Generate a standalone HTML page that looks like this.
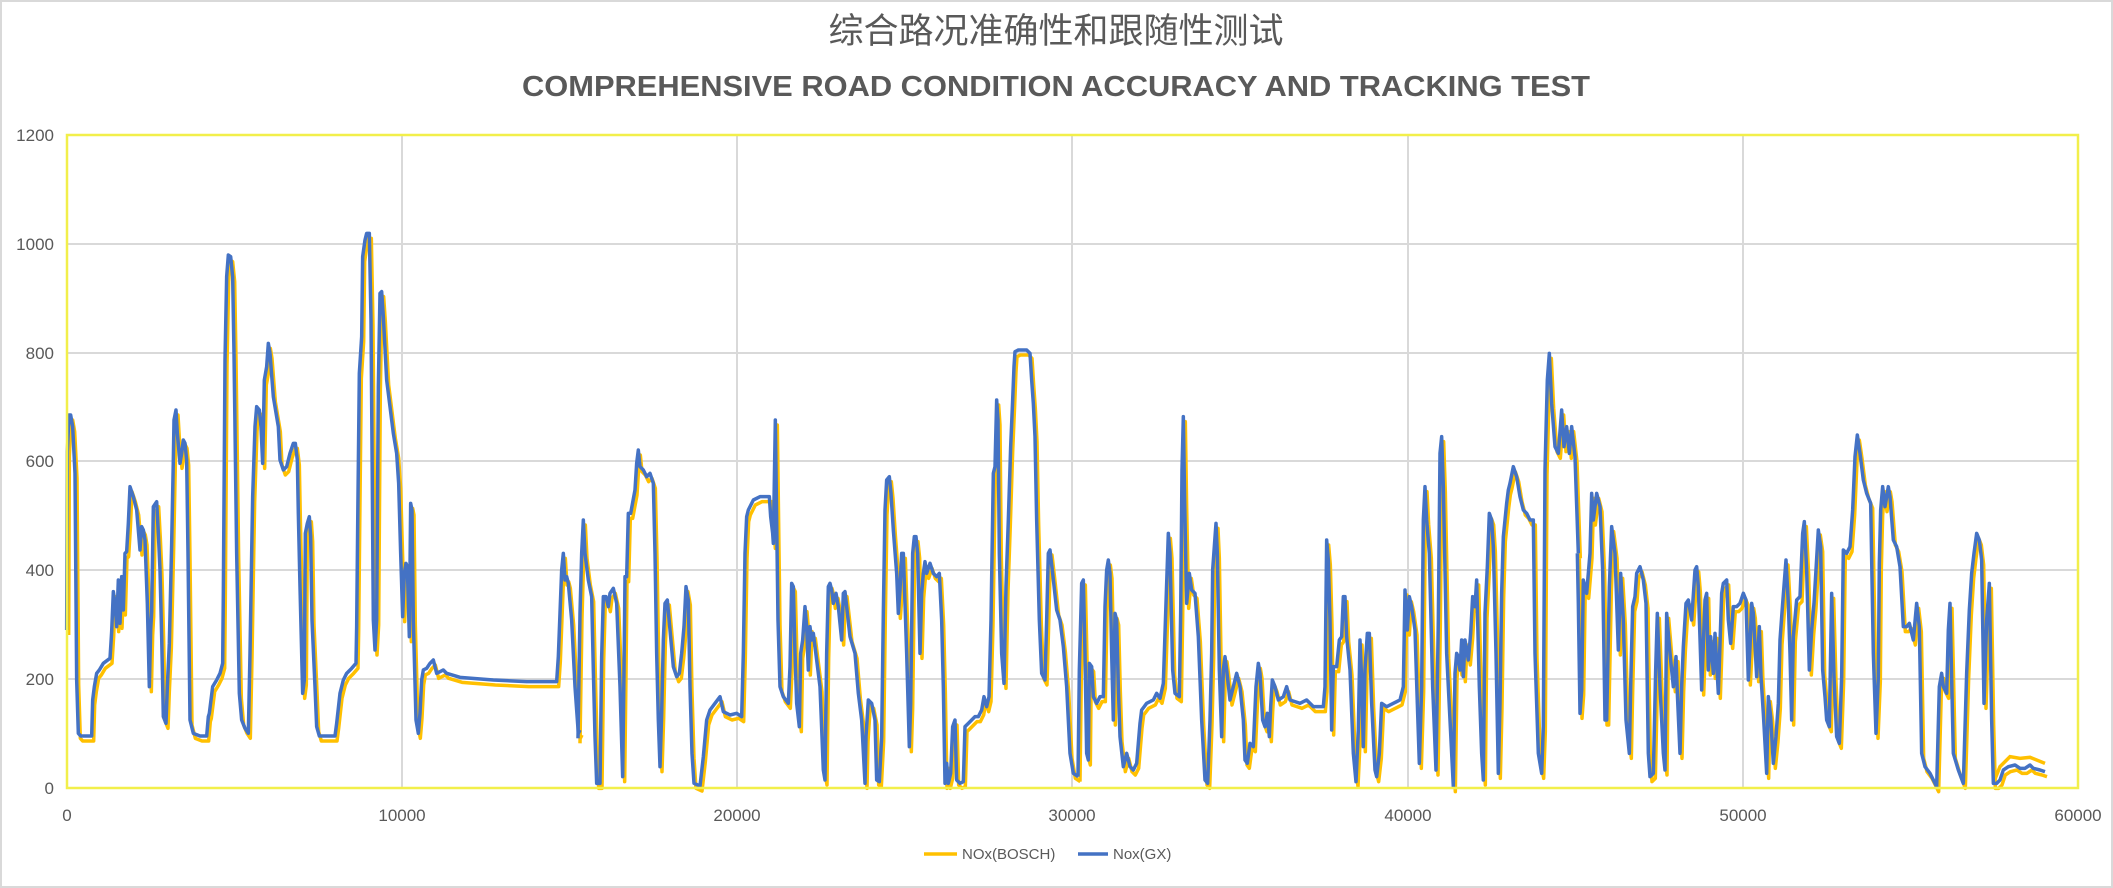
<!DOCTYPE html>
<html><head><meta charset="utf-8"><style>
html,body{margin:0;padding:0;background:#fff;}
svg{display:block;}
text{font-family:"Liberation Sans","Noto Sans CJK SC",sans-serif;fill:#595959;}
</style></head><body>
<svg width="2113" height="888" viewBox="0 0 2113 888" xmlns="http://www.w3.org/2000/svg">
<rect x="1" y="1" width="2111" height="886" fill="#fff" stroke="#d9d9d9" stroke-width="2"/>
<text x="1056" y="43" font-size="35" text-anchor="middle" style="font-family:'Noto Sans CJK SC',sans-serif;fill:#595959">综合路况准确性和跟随性测试</text>
<text x="1056" y="96" font-size="29" font-weight="bold" text-anchor="middle" textLength="1068" lengthAdjust="spacingAndGlyphs">COMPREHENSIVE ROAD CONDITION ACCURACY AND TRACKING TEST</text>
<g stroke="#d9d9d9" stroke-width="2">
<line x1="67" y1="244" x2="2078" y2="244"/><line x1="67" y1="353" x2="2078" y2="353"/><line x1="67" y1="461" x2="2078" y2="461"/><line x1="67" y1="570" x2="2078" y2="570"/><line x1="67" y1="679" x2="2078" y2="679"/>
<line x1="402" y1="135" x2="402" y2="788"/><line x1="737" y1="135" x2="737" y2="788"/><line x1="1072" y1="135" x2="1072" y2="788"/><line x1="1408" y1="135" x2="1408" y2="788"/><line x1="1743" y1="135" x2="1743" y2="788"/>
</g>
<g font-size="17" text-anchor="end">
<text x="54" y="141">1200</text><text x="54" y="250">1000</text><text x="54" y="359">800</text><text x="54" y="467">600</text><text x="54" y="576">400</text><text x="54" y="685">200</text><text x="54" y="794">0</text>
</g>
<g font-size="17" text-anchor="middle">
<text x="67" y="821">0</text><text x="402" y="821">10000</text><text x="737" y="821">20000</text><text x="1072" y="821">30000</text><text x="1408" y="821">40000</text><text x="1743" y="821">50000</text><text x="2078" y="821">60000</text>
</g>
<defs>
<g id="s" fill="none" stroke-linejoin="round">
<polyline vector-effect="non-scaling-stroke" transform="translate(60,220) scale(0.33333)" points="20,1230 22,695 27,585 32,585 38,620 45,760 50,1380 55,1540 62,1548 95,1548 98,1440 103,1400 110,1360 118,1350 130,1330 150,1315 155,1235 160,1115 165,1150 170,1220 175,1080 180,1210 185,1070 190,1170 195,1000 200,995 205,910 210,800 220,830 230,870 240,990 245,920 250,930 255,960 262,1150 268,1400 272,1230 275,1175 280,860 290,845 295,940 300,1050 305,1250 310,1490 318,1510 322,1400 328,1270 335,970 340,720 342,600 348,570 352,640 360,730 365,700 370,660 375,670 380,720 384,1000 390,1500 400,1540 420,1548 440,1548 445,1490 448,1480 458,1400 470,1380 480,1360 488,1330 490,1120 495,420 500,170 505,105 512,110 518,170 522,400 530,1000 538,1420 545,1500 555,1525 565,1540 570,1300 575,1000 578,830 585,620 590,560 598,570 603,620 608,730 613,480 620,440 625,370 630,400 640,530 655,620 660,720 670,750 680,740 690,700 700,670 706,670 712,720 715,880 720,1100 728,1420 733,1380 736,940 742,910 748,890 752,950 756,1200 765,1400 770,1520 778,1548 825,1548 830,1510 840,1420 850,1380 860,1360 875,1345 888,1330 890,1220 893,920 898,460 905,350 908,110 915,60 920,40 928,40 933,300 937,800 940,1200 945,1290 950,1200 955,500 960,220 965,215 970,290 980,480 990,560 1000,640 1010,700 1016,790 1022,1000 1028,1190 1033,1060 1038,1030 1042,1040 1048,1250 1052,850 1056,870 1060,1200 1068,1500 1075,1540 1080,1480 1085,1380 1090,1350 1100,1345 1110,1330 1120,1320 1125,1340 1130,1360 1140,1355 1150,1350 1160,1360 1200,1372 1300,1380 1400,1385 1490,1385 1495,1310 1500,1180 1505,1050 1510,1000 1515,1080 1520,1070 1525,1090 1535,1200 1545,1400 1555,1540 1560,1530"/>
<polyline vector-effect="non-scaling-stroke" transform="translate(560,320) scale(0.33333)" points="54,1255 55,1190 60,880 65,700 70,600 75,700 85,780 95,830 100,1050 105,1250 110,1390 120,1390 125,1010 130,830 138,830 145,860 150,820 160,805 170,850 180,1100 188,1370 192,1050 195,770 200,770 205,580 212,580 225,510 230,430 235,390 240,440 250,450 260,470 270,460 280,490 285,700 290,1000 295,1200 300,1340 305,1180 310,960 315,850 322,840 330,930 340,1040 350,1070 358,1060 365,1000 372,920 378,800 385,840 390,1100 396,1300 402,1390 420,1398 430,1310 440,1200 450,1170 465,1150 480,1130 490,1175 510,1185 530,1180 545,1190 550,1000 555,700 560,590 565,570 580,540 600,530 628,530 632,590 638,640 640,670 646,300 650,600 654,900 660,1100 670,1130 685,1150 690,1040 695,790 700,800 705,1000 710,1150 718,1220 722,1000 728,960 735,860 740,920 745,1050 750,920 755,960 760,940 770,1020 780,1100 790,1350 795,1380 800,1000 805,800 810,790 815,810 820,850 828,820 835,860 845,960 850,820 855,815 860,860 870,950 885,1000 895,1120 905,1200 915,1390 918,1250 925,1140 935,1150 945,1200 950,1380 958,1385 965,1250 970,880 975,570 980,480 988,470 993,520 1000,630 1010,760 1015,880 1020,810 1025,700 1030,700 1040,1000 1048,1280 1052,1150 1058,700 1063,650 1068,650 1073,700 1080,1000 1085,820 1090,760 1095,725 1100,760 1110,730 1120,760 1130,770 1138,760 1145,900 1150,1100 1155,1390 1160,1330 1165,1390 1172,1360 1178,1220 1185,1200 1190,1380 1200,1390 1210,1385 1215,1220 1225,1210 1235,1200 1245,1190 1255,1190 1265,1170 1272,1130 1280,1160 1287,1130 1293,900 1300,460 1305,440 1310,240 1314,300 1318,700 1325,1000 1332,1090 1338,800 1345,600 1352,380 1358,240 1362,140 1365,95 1375,90 1400,90 1410,100 1415,180 1420,250 1425,350 1430,600 1438,900 1445,1060 1455,1080 1460,900 1465,700 1470,690 1478,760 1490,870 1500,900 1510,980 1520,1100 1530,1300 1540,1360 1555,1370"/>
<polyline vector-effect="non-scaling-stroke" transform="translate(1060,320) scale(0.33333)" points="54,1370 58,1050 65,790 70,780 75,1000 80,1300 85,1320 88,1030 95,1040 100,1130 110,1150 120,1130 130,1130 135,860 140,750 145,720 150,760 155,1000 160,1200 165,880 170,900 175,1100 180,1250 190,1340 200,1300 210,1340 220,1350 230,1330 235,1270 240,1210 245,1170 260,1150 280,1140 290,1120 300,1135 310,1090 318,850 325,640 330,700 338,1050 345,1120 358,1130 362,880 366,450 370,290 374,550 380,850 388,760 395,810 405,820 415,950 425,1200 435,1380 443,1390 450,1200 455,1000 458,750 463,680 468,610 472,700 478,1050 485,1250 490,1050 495,1010 500,1050 510,1140 520,1100 530,1060 540,1100 550,1200 555,1320 562,1330 570,1270 580,1280 588,1100 595,1030 600,1060 608,1200 615,1220 622,1180 628,1250 632,1160 637,1080 645,1100 655,1140 670,1130 680,1100 690,1140 720,1150 740,1140 760,1160 790,1160 795,1100 800,660 805,720 810,900 815,1230 820,1040 830,1040 838,960 845,950 850,830 855,830 860,950 870,1050 880,1300 888,1385 895,1230 900,960 905,1080 910,1280 915,1050 922,940 928,940 935,1150 945,1350 950,1370 958,1300 965,1150 980,1160 1000,1150 1020,1140 1030,1100 1035,810 1042,930 1048,830 1055,860 1065,930 1072,1150 1078,1330 1085,1100 1090,600 1095,500 1100,600 1108,700 1118,1100 1128,1350 1135,900 1140,400 1145,350 1150,500 1160,1000 1175,1300 1180,1400 1185,1060 1190,1000 1195,1010 1200,1050 1205,960 1210,1070 1215,960 1225,1020 1232,940 1238,830 1245,860 1250,780 1258,1100 1265,1300 1270,1380 1275,880 1282,740 1288,580 1295,600 1300,680 1308,1000 1315,1360 1320,1150 1325,820 1330,650 1335,600 1340,550 1345,510 1350,490 1360,440 1370,470 1380,530 1390,570 1400,580 1410,600 1420,600 1425,1000 1435,1300 1445,1360 1450,1220 1455,450 1462,180 1468,100 1475,250 1485,380 1495,400 1505,270 1512,380 1520,320 1528,400 1535,320 1545,410 1555,700"/>
<polyline vector-effect="non-scaling-stroke" transform="translate(1560,320) scale(0.33333)" points="52,700 55,850 60,1180 65,1110 70,780 80,820 90,700 95,520 100,600 110,520 120,560 128,750 135,1200 140,1200 148,800 155,620 165,700 175,990 182,760 190,900 198,1200 208,1300 212,1100 218,860 225,830 230,760 240,740 250,780 258,850 265,1300 270,1370 280,1360 287,1050 292,880 300,1100 310,1300 315,1350 320,880 330,1000 340,1100 348,1010 352,1120 360,1300 365,1100 370,980 378,850 385,840 395,900 405,750 410,740 415,800 425,1110 435,840 440,820 445,1050 452,950 460,1060 465,940 475,1120 485,820 490,790 500,780 505,900 512,970 520,860 530,860 540,850 550,820 558,840 565,1080 570,980 575,850 580,880 590,1070 598,920 603,1070 610,1180 620,1360 625,1130 632,1190 640,1330 648,1250 655,1150 660,960 668,850 678,720 685,850 690,1000 695,1200 700,950 710,840 720,830 728,640 733,605 740,750 748,1050 755,930 762,850 768,750 775,630 782,680 788,1050 795,1130 800,1200 808,1220 815,820 822,1070 830,1250 838,1270 845,1070 850,690 860,700 870,680 878,570 885,410 892,345 900,400 910,480 920,520 932,550 940,1000 948,1240 955,1070 958,730 962,570 968,500 975,560 985,500 990,530 1000,660 1010,680 1020,740 1030,920 1040,920 1048,910 1060,960 1070,850 1078,920 1085,1300 1095,1340 1110,1360 1120,1380 1130,1400 1138,1100 1145,1060 1150,1100 1160,1120 1165,930 1170,850 1180,1300 1195,1350 1210,1390 1220,1060 1228,870 1235,760 1242,700 1250,640 1258,660 1265,720 1272,1150 1280,900 1288,790 1295,1200 1300,1390 1310,1390 1320,1380 1330,1350 1345,1340 1365,1335 1380,1345 1395,1345 1410,1335 1420,1345 1440,1350 1455,1355"/>
</g>
</defs>
<use href="#s" transform="translate(2,5)" stroke="#ffc000" stroke-width="3.5"/>
<polyline fill="none" stroke="#ffc000" stroke-width="3.5" vector-effect="non-scaling-stroke" transform="translate(1560,320) scale(0.33333)" points="1300,1390 1320,1340 1350,1310 1380,1315 1410,1312 1455,1330"/>
<use href="#s" stroke="#4472c4" stroke-width="3.5"/>
<rect x="67" y="135" width="2011" height="653" fill="none" stroke="#f2ef4a" stroke-width="2.5"/>
<line x1="924" y1="854" x2="957" y2="854" stroke="#ffc000" stroke-width="3.5"/>
<text x="962" y="859" font-size="15">NOx(BOSCH)</text>
<line x1="1078" y1="854" x2="1108" y2="854" stroke="#4472c4" stroke-width="3.5"/>
<text x="1113" y="859" font-size="15">Nox(GX)</text>
</svg>
</body></html>
